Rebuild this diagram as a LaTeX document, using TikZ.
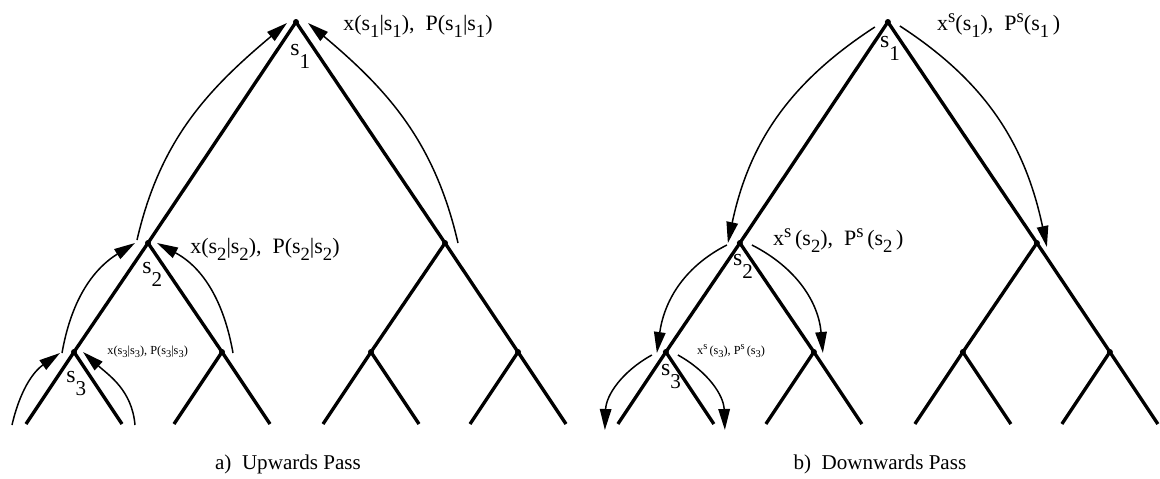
\documentclass[tikz,border=0pt]{standalone}
\usepackage{fontspec}
\usepackage{graphicx}
\setmainfont{Liberation Serif}
\usetikzlibrary{arrows.meta,calc}
\newcommand\subs[1]{\raisebox{-0.7ex}{\scalebox{0.85}{#1}}}
\newcommand\sups[1]{\raisebox{0.75ex}{\scalebox{0.85}{#1}}}
\newcommand\lo[1]{\raisebox{-0.55em}{\fontsize{12}{12}\selectfont #1}}

\begin{document}
\begin{tikzpicture}[x=0.02cm,y=0.02cm,>={Triangle[length=0.42cm,width=0.23cm]},
  branch/.style={line width=1.9pt},
  flow/.style={line width=0.85pt,->},
  dot/.style={circle,fill,inner sep=0pt,minimum size=0.12cm},
  slab/.style={font=\fontsize{13.5}{14}\selectfont,anchor=base west,inner sep=0pt},
  info/.style={font=\fontsize{12.5}{14}\selectfont,anchor=base west,inner sep=0pt},
  infosmall/.style={font=\fontsize{7}{8}\selectfont,anchor=base west,inner sep=0pt},
  caption/.style={font=\fontsize{12}{14}\selectfont,anchor=base}]
\useasboundingbox (0,0) rectangle (1160,478);
% ===================== LEFT: upwards pass =====================
\begin{scope}
  \foreach \k/\x/\y in {1/296/456,2/148/235,3/445/235,4/74/126,5/222/126,6/371/126,7/518/126}
    \node[dot] (a\k) at (\x,\y) {};
  % leaves
  \foreach \k in {4,...,7}{
    \pgfmathtruncatemacro\lft{2*\k}
    \pgfmathtruncatemacro\rgt{2*\k+1}
    \coordinate (a\lft) at ($(a\k)+(-48,-72)$);
    \coordinate (a\rgt) at ($(a\k)+(48,-72)$);}
  \foreach \k in {1,...,7}{
    \pgfmathtruncatemacro\lft{2*\k}
    \pgfmathtruncatemacro\rgt{2*\k+1}
    \draw[branch] (a\lft.center) -- (a\k.center) -- (a\rgt.center);}
  % messages going up
  \draw[flow] ($(a2)+(-11,3)$) to[out=77,in=220] ($(a1)+(-9,-1)$);
  \draw[flow] ($(a3)+(13,0)$) to[out=103,in=-40] ($(a1)+(12,-1)$);
  \draw[flow] ($(a4)+(-12,-1)$) to[out=80,in=212] ($(a2)+(-13,0)$);
  \draw[flow] ($(a5)+(11,-1)$) to[out=100,in=-28] ($(a2)+(9,0)$);
  \draw[flow] ($(a8)+(-14,-1)$) to[out=77,in=215] ($(a4)+(-14,-1)$);
  \draw[flow] ($(a9)+(13,-1)$) to[out=95,in=-42] ($(a4)+(9,0)$);
  % labels
  \node[slab] (sa1) at ($(a1)+(-6,-33)$) {s\lo{1}};
  \node[slab] (sa2) at ($(a2)+(-6,-30)$) {s\lo{2}};
  \node[slab] (sa4) at ($(a4)+(-8,-30)$) {s\lo{3}};
  \node[info] (ia1) at ($(a1)+(47,-8)$) {x(s\subs{1}|s\subs{1}),~~P(s\subs{1}|s\subs{1})};
  \node[info] (ia2) at ($(a2)+(42,-10)$) {x(s\subs{2}|s\subs{2}),~~P(s\subs{2}|s\subs{2})};
  \node[infosmall] (ia4) at ($(a4)+(33,-2)$) {x(s\subs{3}|s\subs{3}),~P(s\subs{3}|s\subs{3})};
  \node[caption] (capa) at (288,9) {a)\ \ Upwards Pass};
\end{scope}
% ===================== RIGHT: downwards pass =====================
\begin{scope}[xshift=11.84cm]
  \foreach \k/\x/\y in {1/296/456,2/148/235,3/445/235,4/74/126,5/222/126,6/371/126,7/518/126}
    \node[dot] (b\k) at (\x,\y) {};
  % leaves
  \foreach \k in {4,...,7}{
    \pgfmathtruncatemacro\lft{2*\k}
    \pgfmathtruncatemacro\rgt{2*\k+1}
    \coordinate (b\lft) at ($(b\k)+(-48,-72)$);
    \coordinate (b\rgt) at ($(b\k)+(48,-72)$);}
  \foreach \k in {1,...,7}{
    \pgfmathtruncatemacro\lft{2*\k}
    \pgfmathtruncatemacro\rgt{2*\k+1}
    \draw[branch] (b\lft.center) -- (b\k.center) -- (b\rgt.center);}
  % messages going down
  \draw[flow] ($(b1)+(-13,-5)$) to[out=213,in=78] ($(b2)+(-12,0)$);
  \draw[flow] ($(b1)+(12,-4)$) to[out=-33,in=102] ($(b3)+(10,-4)$);
  \draw[flow] ($(b2)+(-13,-2)$) to[out=207,in=82] ($(b4)+(-9,-1)$);
  \draw[flow] ($(b2)+(12,-2)$) to[out=-27,in=95] ($(b5)+(9,-1)$);
  \draw[flow] ($(b4)+(-14,-3)$) to[out=209,in=88] ($(b8)+(-13,-6)$);
  \draw[flow] ($(b4)+(12,-3)$) to[out=-29,in=92] ($(b9)+(11,-6)$);
  % labels
  \node[slab] (sb1) at ($(b1)+(-8,-25)$) {s\lo{1}};
  \node[slab] (sb2) at ($(b2)+(-7,-22)$) {s\lo{2}};
  \node[slab] (sb4) at ($(b4)+(-5,-23)$) {s\lo{3}};
  \node[info] (ib1) at ($(b1)+(49,-8)$) {x\sups{s}(s\subs{1}),~~P\sups{s}(s\subs{1}\,)};
  \node[info] (ib2) at ($(b2)+(33,-2)$) {x\sups{s}\,(s\subs{2}),~~P\sups{s}\,(s\subs{2}\,)};
  \node[infosmall] (ib4) at ($(b4)+(31,-2)$) {x\sups{s}\,(s\subs{3}),~P\sups{s}\,(s\subs{3})};
  \node[caption] (capb) at (288,9) {b)\ \ Downwards Pass};
\end{scope}
\end{tikzpicture}
\end{document}
